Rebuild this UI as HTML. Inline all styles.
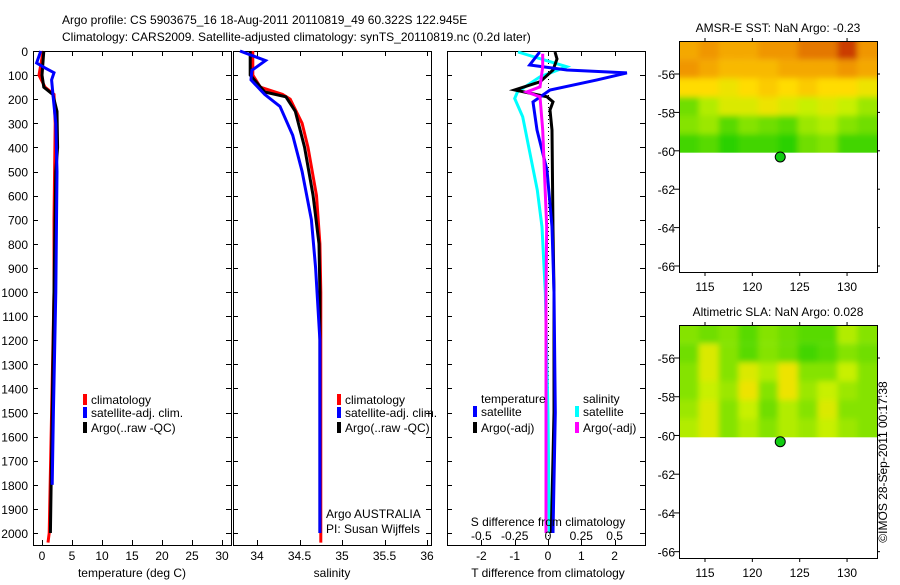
<!DOCTYPE html>
<html><head><meta charset="utf-8"><style>
body{margin:0;background:#fff;}
svg text{font-family:"Liberation Sans",sans-serif;font-size:12px;fill:#000;}
</style></head><body>
<svg id="c" width="900" height="580" viewBox="0 0 900 580" xmlns="http://www.w3.org/2000/svg">
<defs><filter id="bl" x="-5%" y="-5%" width="110%" height="110%"><feGaussianBlur stdDeviation="3"/></filter></defs>
<text x="62" y="24">Argo profile: CS 5903675_16 18-Aug-2011 20110819_49 60.322S 122.945E</text>
<text x="62" y="41">Climatology: CARS2009. Satellite-adjusted climatology: synTS_20110819.nc (0.2d later)</text>
<text transform="translate(887,462) rotate(-90)" text-anchor="middle">©IMOS 28-Sep-2011 00:17:38</text>
</svg>
<script>
// ---- data ----
const tempClimDepth=[0,100,150,180,300,700,1000,1500,2000,2040];
const tempClim=[0.2,-0.5,0.5,2.0,2.2,2.0,2.0,1.6,1.2,1.0];
const tempSatDepth=[0,50,70,90,120,200,300,500,1000,1500,1800];
const tempSat=[-0.2,-0.9,0.5,2.0,1.6,1.9,2.3,2.5,2.3,1.9,1.7];
const tempArgoDepth=[0,100,150,180,250,400,500,1000,1500,2000];
const tempArgo=[0.3,0.0,0.3,1.8,2.5,2.6,2.3,2.0,1.7,1.4];
const salClimDepth=[0,100,150,180,200,300,400,600,800,1000,2040];
const salClim=[33.95,33.95,34.04,34.3,34.39,34.53,34.6,34.7,34.74,34.75,34.75];
const salArgoDepth=[0,100,170,190,250,400,600,800,1000,2000];
const salArgo=[33.92,33.92,34.09,34.34,34.45,34.56,34.66,34.73,34.74,34.74];
const salSatDepth=[0,40,80,120,180,230,350,500,700,900,1200,2000];
const salSat=[33.8,34.1,33.94,33.93,34.09,34.27,34.42,34.53,34.64,34.69,34.74,34.74];
const dTSatDepth=[4,58,79,91,120,162,211,328,494,730,1000,1500,2000];
const dTSat=[-0.25,-0.55,0.57,2.37,1.47,0.06,-0.45,-0.33,-0.03,0.12,0.18,0.22,0.15];
const dTArgoDepth=[4,33,79,128,162,190,211,245,328,743,1000,1500,2000];
const dTArgo=[0.21,0.27,0.15,-0.24,-1.0,-0.03,0.15,0.06,0.12,0.15,0.18,0.18,0.1];
const dSSatDepth=[4,65,107,170,197,273,577,730,1000,1500,2000];
const dSSat=[-0.225,0.14,-0.06,-0.23,-0.25,-0.19,-0.08,-0.045,-0.02,0.0,0.01];
const dSArgoDepth=[11,65,149,170,190,328,730,1000,1500,2000];
const dSArgo=[-0.04,-0.04,-0.06,-0.16,-0.06,-0.04,-0.01,-0.015,-0.015,-0.015];
const depthTicks=[0,100,200,300,400,500,600,700,800,900,1000,1100,1200,1300,1400,1500,1600,1700,1800,1900,2000];
const tempTicks=[0,5,10,15,20,25,30];
const salTicks=[34,34.5,35,35.5,36];
const dTTicks=[-2,-1,0,1,2];
const dSTicks=[-0.5,-0.25,0,0.25,0.5];
const dSTickLabels=["-0.5","-0.25","0","0.25","0.5"];
const latTicks=[-56,-58,-60,-62,-64,-66];
const lonTicks=[115,120,125,130];
const sstGrid=[
[.75,.8,.75,.75,.8,.8,.85,.85,.95,.8],
[.8,.75,.7,.7,.7,.75,.75,.75,.8,.75],
[.6,.6,.55,.6,.65,.6,.65,.6,.6,.55],
[.25,.4,.5,.5,.55,.5,.45,.5,.45,.35],
[.3,.35,.2,.3,.25,.2,.35,.4,.3,.25],
[.15,.2,.1,.15,.15,.1,.25,.3,.15,.15]];
const slaGrid=[
[.3,.25,.3,.2,.3,.25,.2,.2,.4,.3],
[.25,.5,.3,.2,.3,.25,.15,.2,.3,.25],
[.3,.5,.3,.5,.4,.55,.3,.3,.45,.3],
[.3,.45,.35,.55,.3,.55,.35,.45,.35,.3],
[.35,.5,.3,.45,.25,.4,.3,.5,.3,.3],
[.4,.5,.3,.4,.3,.4,.35,.45,.35,.3]];
const argoLon=122.945, argoLat=-60.322;

const svg=document.getElementById('c');
const NS='http://www.w3.org/2000/svg';
function mk(tag,at,parent){const e=document.createElementNS(NS,tag);for(const k in at)e.setAttribute(k,at[k]);(parent||svg).appendChild(e);return e;}
const yD=d=>51+d*0.241;
const PB=545;
function frame(x0,w,name){
  const r=mk('rect',{x:x0+0.5,y:51.5,width:w,height:PB-51,fill:'none',stroke:'#000','stroke-width':1});
  
  
  depthTicks.forEach(d=>{const y=Math.round(yD(d))+0.5;mk('line',{x1:x0,x2:x0+5,y1:y,y2:y,stroke:'#000'});mk('line',{x1:x0+w-5,x2:x0+w,y1:y,y2:y,stroke:'#000'});});
}
function line(xs,ds,xf,color,name){
  const p=xs.map((v,i)=>xf(v).toFixed(1)+','+yD(ds[i]).toFixed(1)).join(' ');
  const e=mk('polyline',{points:p,fill:'none',stroke:color,'stroke-width':3});
  
  
}
function txt(x,y,s,name,anchor){const t=mk('text',{x:x,y:y,'text-anchor':anchor||'start'});t.textContent=s;
  
  return t;}
function legend(x,y,color,label,name){mk('rect',{x:x,y:y-10,width:4,height:11,fill:color});txt(x+8,y,label,name);}
function xtick(x){x=Math.round(x)+0.5;mk('line',{x1:x,x2:x,y1:51,y2:56,stroke:'#000'});mk('line',{x1:x,x2:x,y1:PB-5,y2:PB,stroke:'#000'});}

// panel 1 temperature
const xT=v=>42+v*6;
frame(33,198,'temperature-panel');
depthTicks.forEach(d=>txt(28,yD(d)+5,String(d),'depth-tick-label','end'));
tempTicks.forEach(v=>{xtick(xT(v));txt(xT(v),560,String(v),'temp-tick-label','middle');});
txt(132,577,'temperature (deg C)','temperature-axis-title','middle');
line(tempClim,tempClimDepth,xT,'#f00','temp-climatology-line');
line(tempArgo,tempArgoDepth,xT,'#000','temp-argo-line');
line(tempSat,tempSatDepth,xT,'#00f','temp-satellite-line');
legend(83,404,'#f00','climatology','legend-climatology');
legend(83,417,'#00f','satellite-adj. clim.','legend-satellite');
legend(83,432,'#000','Argo(..raw -QC)','legend-argo');

// panel 2 salinity
const xS=v=>257+(v-34)*85;
frame(233,198,'salinity-panel');
salTicks.forEach(v=>{xtick(xS(v));txt(xS(v),560,String(v),'salinity-tick-label','middle');});
txt(332,577,'salinity','salinity-axis-title','middle');
line(salClim,salClimDepth,xS,'#f00','sal-climatology-line');
line(salArgo,salArgoDepth,xS,'#000','sal-argo-line');
line(salSat,salSatDepth,xS,'#00f','sal-satellite-line');
legend(337,404,'#f00','climatology','legend-climatology-2');
legend(337,417,'#00f','satellite-adj. clim.','legend-satellite-2');
legend(337,432,'#000','Argo(..raw -QC)','legend-argo-2');
txt(326,518,'Argo AUSTRALIA','argo-country');
txt(326,533,'PI: Susan Wijffels','argo-pi');

// panel 3 differences
const xdT=v=>548+v*33.3;
const xdS=v=>548+v*133.2;
frame(447,198,'difference-panel');
mk('line',{x1:548.5,x2:548.5,y1:51,y2:PB,stroke:'#000','stroke-dasharray':'1,3'});
dTTicks.forEach(v=>{xtick(xdT(v));txt(xdT(v),560,String(v),'dt-tick-label','middle');});
line(dSSat,dSSatDepth,xdS,'#0ff','ds-satellite-line');
line(dTArgo,dTArgoDepth,xdT,'#000','dt-argo-line');
line(dTSat,dTSatDepth,xdT,'#00f','dt-satellite-line');
line(dSArgo,dSArgoDepth,xdS,'#f0f','ds-argo-line');
txt(548,526,'S difference from climatology','ds-axis-title','middle');
dSTicks.forEach((v,i)=>txt(xdS(v),540,dSTickLabels[i],'ds-tick-label','middle'));
txt(548,577,'T difference from climatology','dt-axis-title','middle');
txt(481,403,'temperature','legend-temperature-heading');
legend(473,416,'#00f','satellite','legend-t-satellite');
legend(473,432,'#000','Argo(-adj)','legend-t-argo');
txt(583,403,'salinity','legend-salinity-heading');
legend(575,416,'#0ff','satellite','legend-s-satellite');
legend(575,432,'#f0f','Argo(-adj)','legend-s-argo');

// maps
function colSST(v){const s=[[0,[0,200,0]],[.45,[200,240,0]],[.6,[255,220,0]],[.8,[240,150,0]],[1,[190,30,0]]];
 for(let i=1;i<s.length;i++){if(v<=s[i][0]){const a=s[i-1],b=s[i],t=(v-a[0])/(b[0]-a[0]);return 'rgb('+a[1].map((c,k)=>Math.round(c+(b[1][k]-c)*t)).join(',')+')';}}return 'rgb(190,30,0)';}
let clipN=0;
function map(top,bot,grid,title,name){
  const L=679,R=877;
  const lat=v=>top+33+(-56-v)*19.2*(bot-top)/231;
  const lon=v=>705+(v-115)*9.47;
  txt(778,top-9,title,name+'-title','middle');
  const rows=grid.length, cols=grid[0].length;
  const yb=lat(-60.1), yt=top;
  const ch=(yb-yt)/rows, cw=(R-L)/cols;
  const id='cp'+(clipN++);
  const cp=mk('clipPath',{id:id});
  mk('rect',{x:L,y:yt,width:R-L,height:yb-yt},cp);
  const g0=mk('g',{'clip-path':'url(#'+id+')'});
  const g=mk('g',{filter:'url(#bl)'},g0);
  grid.forEach((row,r)=>row.forEach((v,c)=>{
    const x=L+(c===0?-15:c*cw), w=cw+(c===0||c===cols-1?15:0.5);
    const y=yt+(r===0?-15:r*ch), h=ch+(r===0?15:0.5);
    const e=mk('rect',{x:x,y:y,width:w+0.5,height:h+(r===rows-1?15:0),fill:colSST(v)},g);
    
    
  }));
  mk('rect',{x:L,y:yb,width:R-L,height:20,fill:'#fff'},g0);
  const f=mk('rect',{x:L+0.5,y:top+0.5,width:R-L,height:bot-top,fill:'none',stroke:'#000'});
  
  
  latTicks.forEach(v=>{mk('line',{x1:L-5,x2:L,y1:lat(v),y2:lat(v),stroke:'#000'});mk('line',{x1:R,x2:R+3,y1:lat(v),y2:lat(v),stroke:'#000'});txt(L-4,lat(v)+5,String(v),name+'-lat-label','end');});
  lonTicks.forEach(v=>{mk('line',{x1:lon(v),x2:lon(v),y1:top-3,y2:top,stroke:'#000'});mk('line',{x1:lon(v),x2:lon(v),y1:bot,y2:bot+4,stroke:'#000'});txt(lon(v),bot+19,String(v),name+'-lon-label','middle');});
  const d=mk('circle',{cx:lon(argoLon),cy:lat(argoLat),r:5,fill:'#1c1',stroke:'#000','stroke-width':1});
  
  
}
map(41,272,sstGrid,'AMSR-E SST: NaN Argo: -0.23','sst-map');
map(325,558,slaGrid,'Altimetric SLA: NaN Argo: 0.028','sla-map');
</script>
</body></html>
